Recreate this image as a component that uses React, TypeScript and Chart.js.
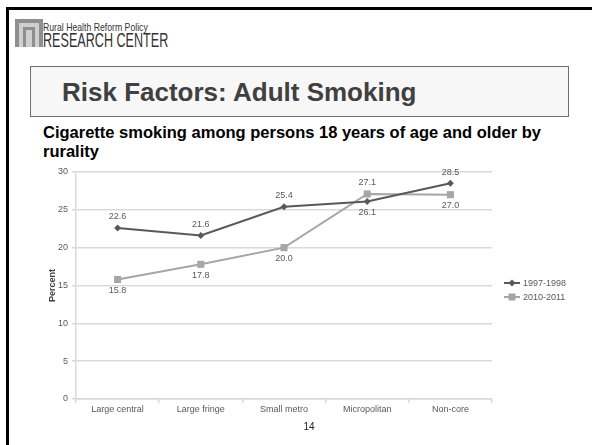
import React, { useEffect, useRef } from "react";
import { Chart, registerables } from "chart.js";

Chart.register(...registerables);

// Rurality categories and smoking prevalence (percent)
const categories = ["Large central", "Large fringe", "Small metro", "Micropolitan", "Non-core"];
const seriesNames = ["1997-1998", "2010-2011"];
const smoking1997 = [22.6, 21.6, 25.4, 26.1, 28.5];
const smoking2010 = [15.8, 17.8, 20.0, 27.1, 27.0];
const yTicks = [0, 5, 10, 15, 20, 25, 30];

// Where each value label sits relative to its point
const labelSide1997 = ["above", "above", "above", "below", "above"];
const labelSide2010 = ["below", "below", "below", "above", "below"];

const FONT = 'Arial, "Liberation Sans", sans-serif';
const DARK = "#595959";
const LIGHT = "#a6a6a6";
const TEXT = "#595959";

function drawMarker(ctx: CanvasRenderingContext2D, style: string, x: number, y: number, color: string) {
  ctx.save();
  ctx.fillStyle = color;
  ctx.beginPath();
  if (style === "rectRot") {
    const r = 3.5;
    ctx.moveTo(x, y - r);
    ctx.lineTo(x + r, y);
    ctx.lineTo(x, y + r);
    ctx.lineTo(x - r, y);
    ctx.closePath();
  } else {
    const h = 3.5;
    ctx.rect(x - h, y - h, h * 2, h * 2);
  }
  ctx.fill();
  ctx.restore();
}

const valueLabels = {
  id: "valueLabels",
  afterDatasetsDraw(chart: any) {
    const ctx: CanvasRenderingContext2D = chart.ctx;
    const sides = [labelSide1997, labelSide2010];
    ctx.save();
    ctx.font = `9px ${FONT}`;
    ctx.fillStyle = TEXT;
    ctx.textAlign = "center";
    ctx.textBaseline = "middle";
    chart.data.datasets.forEach((ds: any, di: number) => {
      const meta = chart.getDatasetMeta(di);
      meta.data.forEach((pt: any, i: number) => {
        const v = ds.data[i] as number;
        const dy = sides[di][i] === "above" ? -11 : 11;
        ctx.fillText(v.toFixed(1), pt.x, pt.y + dy);
      });
    });
    ctx.restore();
  },
};

const sideLegend = {
  id: "sideLegend",
  afterDraw(chart: any) {
    const ctx: CanvasRenderingContext2D = chart.ctx;
    const area = chart.chartArea;
    const x0 = area.right + 12;
    const rows = [123, 137];
    ctx.save();
    ctx.font = `9px ${FONT}`;
    ctx.textBaseline = "middle";
    ctx.textAlign = "left";
    chart.data.datasets.forEach((ds: any, di: number) => {
      const y = rows[di];
      ctx.strokeStyle = ds.borderColor;
      ctx.lineWidth = 2;
      ctx.beginPath();
      ctx.moveTo(x0, y);
      ctx.lineTo(x0 + 16, y);
      ctx.stroke();
      drawMarker(ctx, ds.pointStyle, x0 + 8, y, ds.borderColor);
      ctx.fillStyle = TEXT;
      ctx.fillText(ds.label, x0 + 19, y + 0.5);
    });
    ctx.restore();
  },
};

function SmokingChart() {
  const ref = useRef<HTMLCanvasElement | null>(null);

  useEffect(() => {
    if (!ref.current) return;
    const chart = new Chart(ref.current, {
      type: "line",
      data: {
        labels: categories,
        datasets: [
          {
            label: seriesNames[0],
            data: smoking1997,
            borderColor: DARK,
            backgroundColor: DARK,
            borderWidth: 2,
            pointStyle: "rectRot",
            pointRadius: 3.5,
            pointBorderWidth: 0,
            tension: 0,
          },
          {
            label: seriesNames[1],
            data: smoking2010,
            borderColor: LIGHT,
            backgroundColor: LIGHT,
            borderWidth: 2,
            pointStyle: "rect",
            pointRadius: 5,
            pointBorderWidth: 0,
            tension: 0,
          },
        ],
      },
      options: {
        animation: false,
        responsive: false,
        maintainAspectRatio: false,
        layout: { padding: { left: 0, right: 100, top: 12, bottom: 0 } },
        plugins: { legend: { display: false }, tooltip: { enabled: false } },
        scales: {
          x: {
            type: "category",
            offset: true,
            grid: {
              offset: true,
              drawOnChartArea: false,
              drawTicks: true,
              tickLength: 4,
              color: "#d9d9d9",
              lineWidth: 1.5,
            },
            border: { color: "#d9d9d9", width: 1.5 },
            ticks: { color: TEXT, font: { family: FONT, size: 9 }, padding: 1, maxRotation: 0 },
            afterFit(scale: any) {
              scale.height = 36;
            },
          },
          y: {
            min: 0,
            max: 30,
            afterBuildTicks(scale: any) {
              scale.ticks = yTicks.map((v) => ({ value: v }));
            },
            grid: { color: "#d9d9d9", lineWidth: 1.5, tickLength: 4 },
            border: { color: "#d9d9d9", width: 1.5 },
            ticks: { color: TEXT, font: { family: FONT, size: 9 }, padding: 4 },
            title: {
              display: true,
              text: "Percent",
              color: "#404040",
              font: { family: FONT, size: 9, weight: "bold" },
              padding: { top: 27, bottom: 0 },
            },
            afterFit(scale: any) {
              scale.width = 56;
            },
          },
        },
      },
      plugins: [valueLabels, sideLegend],
    } as any);
    return () => chart.destroy();
  }, []);

  return <canvas ref={ref} width={572} height={275} style={{ position: "absolute", left: 20, top: 160, width: 572, height: 275 }} />;
}

function Logo() {
  const narrow = { whiteSpace: "nowrap" as const, transformOrigin: "0 0", fontFamily: FONT, color: "#333" };
  return (
    <div style={{ position: "absolute", left: 15, top: 18 }}>
      <svg width={28} height={29} style={{ position: "absolute", left: 0, top: 1 }}>
        <rect x={0} y={0} width={28} height={28} fill="#8f8f8f" />
        <path d="M4 28 V4 H24 V28 H20 V8 H8 V28 Z" fill="#cfcfcf" />
        <path d="M11 28 V11 H17 V28 Z" fill="#cfcfcf" />
      </svg>
      <div style={{ ...narrow, position: "absolute", left: 28, top: 3, fontSize: 11, lineHeight: "12px", transform: "scaleX(0.79)" }}>
        Rural Health Reform Policy
      </div>
      <div style={{ ...narrow, position: "absolute", left: 28, top: 11, fontSize: 21, lineHeight: "22px", transform: "scaleX(0.6)" }}>
        RESEARCH CENTER
      </div>
    </div>
  );
}

export default function App() {
  return (
    <div style={{ position: "fixed", left: 0, top: 0, width: 592, height: 445, background: "#fff", overflow: "hidden", fontFamily: FONT }}>
      <div style={{ position: "absolute", left: 6, top: 7, right: 0, height: 3, background: "#000" }} />
      <div style={{ position: "absolute", left: 6, top: 7, bottom: 0, width: 3, background: "#000" }} />
      <Logo />
      <div
        style={{
          position: "absolute",
          left: 30,
          top: 66,
          width: 537,
          height: 49,
          border: "1px solid #6f6f6f",
          background: "#f7f7f7",
          boxSizing: "content-box",
        }}
      >
        <div
          style={{
            position: "absolute",
            left: 31,
            top: 10,
            fontSize: 26,
            fontWeight: "bold",
            color: "#404040",
            whiteSpace: "nowrap",
            lineHeight: "30px",
          }}
        >
          Risk Factors: Adult Smoking
        </div>
      </div>
      <div
        style={{
          position: "absolute",
          left: 43,
          top: 123,
          whiteSpace: "nowrap",
          fontSize: 16.5,
          fontWeight: "bold",
          color: "#000",
          lineHeight: "19px",
        }}
      >
        Cigarette smoking among persons 18 years of age and older by
        <br />
        rurality
      </div>
      <SmokingChart />
      <div style={{ position: "absolute", left: 299, top: 421, width: 20, textAlign: "center", fontSize: 10, color: "#222" }}>14</div>
    </div>
  );
}
